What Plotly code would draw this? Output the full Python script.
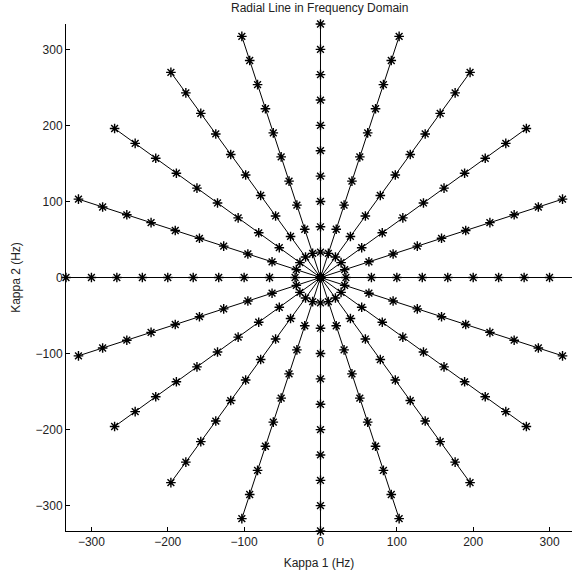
import numpy as np
import plotly.graph_objects as go

# Radial sample positions along each line (Hz) and line angles (degrees)
radii = [-333.3, -300.0, -266.7, -233.3, -200.0, -166.7, -133.3, -100.0, -66.7, -33.3,
         0.0, 33.3, 66.7, 100.0, 133.3, 166.7, 200.0, 233.3, 266.7, 300.0, 333.3]
angles_deg = [0, 18, 36, 54, 72, 90, 108, 126, 144, 162]
tick_vals = [-300, -200, -100, 0, 100, 200, 300]

fig = go.Figure()
r = np.array(radii)
for a in angles_deg:
    th = np.deg2rad(a)
    fig.add_trace(go.Scatter(
        x=r * np.cos(th), y=r * np.sin(th),
        mode="lines+markers",
        line=dict(color="black", width=1),
        marker=dict(symbol="asterisk-open", size=8, color="black",
                    line=dict(color="black", width=1.4)),
        cliponaxis=False, showlegend=False, hoverinfo="x+y"))

font = dict(family="Liberation Sans, Arial, Helvetica, sans-serif", size=12, color="#222")

fig.update_layout(
    width=572, height=575,
    margin=dict(l=66, r=0, t=24, b=44),
    paper_bgcolor="white", plot_bgcolor="white",
    font=font,
    xaxis=dict(range=[-333.3, 329.4], tickvals=tick_vals, ticks="inside", ticklen=4,
               tickcolor="black", showline=True, linecolor="black", linewidth=1,
               showgrid=False, zeroline=False, tickfont=font,
               title=dict(text="Kappa 1 (Hz)", font=font, standoff=10)),
    yaxis=dict(range=[-333.3, 333.3], tickvals=tick_vals, ticks="inside", ticklen=4,
               tickcolor="black", showline=True, linecolor="black", linewidth=1,
               showgrid=False, zeroline=False, tickfont=font,
               title=dict(text="Kappa 2 (Hz)", font=font, standoff=12)),
    annotations=[dict(text="Radial Line in Frequency Domain", x=0.5, xref="paper",
                      y=1, yref="paper", yanchor="bottom", yshift=7, showarrow=False,
                      font=font)],
)

fig.write_html("out.html")
